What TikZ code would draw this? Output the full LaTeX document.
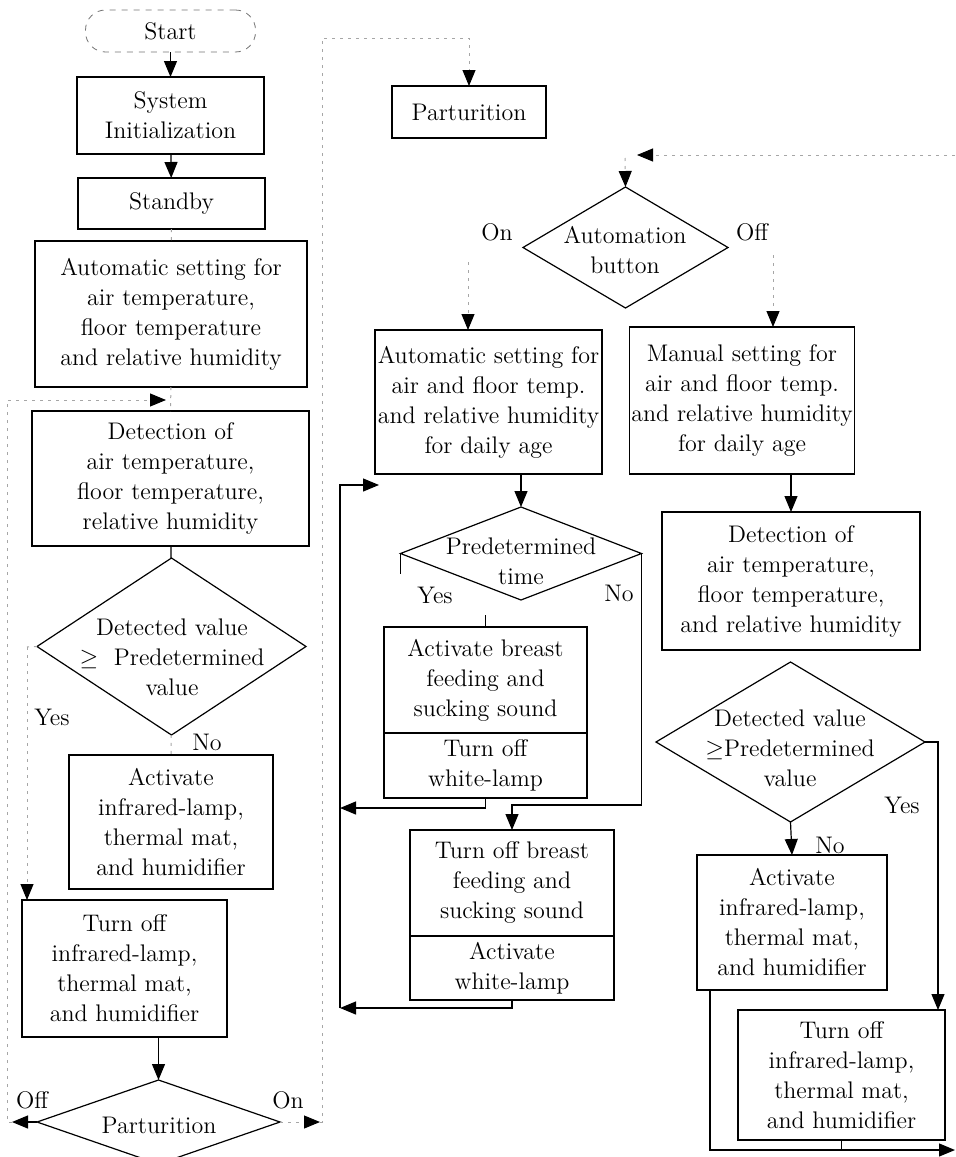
\documentclass[tikz,border=0pt]{standalone}
\usetikzlibrary{arrows.meta,shapes.geometric}
\tikzset{
  txt/.style={font=\fontsize{12}{15}\selectfont},
  box/.style={txt, draw, line width=0.6pt, align=center, inner sep=1pt, outer sep=0pt},
  boxwh/.style 2 args={minimum width=#1*0.5pt, minimum height=#2*0.5pt},
  dia/.style={draw, line width=0.6pt, diamond, inner sep=0pt, outer sep=0pt},
  term/.style={txt, draw=black!55, dashed, rounded corners=10pt, inner sep=1pt},
  lbl/.style={txt, inner sep=0pt},
  line/.style={line width=0.6pt},
  arr/.style={line, -{Triangle[length=8pt, width=6.5pt]}},
  faint/.style={draw=black!35, line width=0.5pt, dash pattern=on 1.5pt off 2.5pt},
  faintarr/.style={faint, -{Triangle[length=8pt, width=6.5pt, color=black]}},
}
\begin{document}
\begin{tikzpicture}[x=0.5pt, y=-0.5pt]
\useasboundingbox (0,0) rectangle (955,1157);
\clip (0,0) rectangle (955,1157);
% left column
\node[term, boxwh={170}{42}] (start) at (170.5,31) {Start};
\node[box, boxwh={187}{77}] (init) at (170.5,115.5) {System\\Initialization};
\node[box, boxwh={187}{51}] (stby) at (171.5,203.5) {Standby};
\node[box, boxwh={272}{146}] (aset) at (171,314) {Automatic setting for\\air temperature,\\floor temperature\\and relative humidity};
\node[box, boxwh={277}{135}] (det) at (170.5,478.5) {Detection of\\air temperature,\\floor temperature,\\relative humidity};
\node[dia, boxwh={269}{177}] (cmp) at (171.5,646.5) {};
\node[lbl, align=center] (cmpt) at (172,657) {Detected value\\$\geq$\ \ Predetermined\\value};
\node[lbl] (yesA) at (52,717) {Yes};
\node[lbl] (noA) at (207,742) {No};
\node[box, boxwh={204}{134}] (act) at (171,822) {Activate\\infrared-lamp,\\thermal mat,\\and humidifier};
\node[box, boxwh={205}{137}] (toff) at (124.5,968.5) {Turn off\\infrared-lamp,\\thermal mat,\\and humidifier};
\node[dia, boxwh={243}{84}] (part) at (158.5,1122) {};
\node[lbl] (partt) at (159,1125) {Parturition};
\node[lbl] (offA) at (32,1100) {Off};
\node[lbl] (onA) at (288,1100) {On};

\coordinate (offend) at (12,1122);
\coordinate (onend) at (320,1122);
\coordinate (offup) at (7,400);
\coordinate (detin) at (166,400);
\coordinate (onup) at (322,38);
\coordinate (yesL) at (27,647);

\draw[arr] (start) -- (init);
\draw[arr] (init) -- (stby);
\draw[faint] (stby) -- (aset);
\draw[faint] (aset) -- (det);
\draw[line] (det) -- (cmp);
\draw[faint] (cmp) -- (act);
\draw[faint] (cmp.west) -- (yesL);
\draw[faintarr] (yesL) -- (yesL |- toff.north);
\draw[arr] (part.north |- toff.south) -- (part.north);
\draw[arr] (part.west) -- (offend);
\draw[faintarr] (part.east) -- (onend);
\draw[faintarr] (offend) -| (offup) -- (detin);

% middle column
\node[box, boxwh={154}{52}] (part2) at (469,112) {Parturition};
\draw[faintarr] (onend) -| (onup) -- (onup -| part2.north) -- (part2.north);
\coordinate (toploop) at (955,155);
\coordinate (looptip) at (637,155);
\coordinate (autoin) at (625,158);
\draw[faintarr] (toploop) -- (looptip);
\node[dia, boxwh={205}{121}] (auto) at (625.5,247.5) {};
\node[lbl, align=center] (autot) at (625,250) {Automation\\button};
\draw[faintarr] (autoin) -- (auto.north);
\node[lbl] (onB) at (497,232) {On};
\node[lbl] (offB) at (752,232) {Off};
\node[box, boxwh={227}{144}] (mset) at (488.5,402) {Automatic setting for\\air and floor temp.\\and relative humidity\\for daily age};
\node[box, boxwh={216}{147}] (man) at (742,400.5) {Manual setting for\\air and floor temp.\\and relative humidity\\for daily age};
\coordinate (onx) at (468,262);
\coordinate (offx) at (773,255);
\draw[faintarr] (onx) -- (onx |- mset.north);
\draw[faintarr] (offx) -- (offx |- man.north);

\node[dia, boxwh={241}{93}] (pt) at (521,553.5) {};
\node[lbl, align=center] (ptt) at (521,561) {Predetermined\\time};
\draw[arr] (pt.north |- mset.south) -- (pt.north);
\node[lbl] (yesB) at (435,595) {Yes};
\node[lbl] (noB) at (619,593) {No};
\node[box, boxwh={203}{106}] (feed) at (485.5,680) {Activate breast\\feeding and\\sucking sound};
\node[box, boxwh={203}{65}] (wloff) at (485.5,765.5) {Turn off\\white-lamp};
\node[box, boxwh={204}{106}] (fdoff) at (512,883) {Turn off breast\\feeding and\\sucking sound};
\node[box, boxwh={204}{64}] (wlon) at (512,968) {Activate\\white-lamp};
\draw[line] (pt.west) -- ++(0,20);
\draw[line] (feed.north) -- ++(0,-12);
\coordinate (nobend) at (512,805);
\draw[arr] (pt.east) |- (nobend) -- (fdoff.north);
\coordinate (lpA) at (340,808);
\coordinate (lpB) at (340,1008);
\coordinate (ptin) at (379,485);
\draw[arr] (wloff.south) |- (lpA);
\draw[arr] (wlon.south) |- (lpB);
\draw[arr] (lpB) -- (lpB |- ptin) -- (ptin);

% right column
\node[box, boxwh={258}{138}] (det2) at (791,581) {Detection of\\air temperature,\\floor temperature,\\and relative humidity};
\draw[arr] (det2.north |- man.south) -- (det2.north);
\node[dia, boxwh={269}{160}] (cmp2) at (790.5,742) {};
\node[lbl, align=center] (cmp2t) at (790,748) {Detected value\\$\geq$Predetermined\\value};
\node[lbl] (yesC) at (902,805) {Yes};
\node[lbl] (noC) at (830,845) {No};
\node[box, boxwh={190}{135}] (act2) at (792,922.5) {Activate\\infrared-lamp,\\thermal mat,\\and humidifier};
\draw[arr] (cmp2.south) -- (act2.north);
\node[box, boxwh={207}{130}] (toff2) at (841.5,1075) {Turn off\\infrared-lamp,\\thermal mat,\\and humidifier};
\coordinate (yesR) at (938,742);
\draw[arr] (cmp2.east) -- (yesR) -- (yesR |- toff2.north);
\coordinate (dropx) at (710,1150);
\coordinate (botR) at (955,1150);
\draw[arr] (dropx |- act2.south) -- (dropx) -- (botR);
\draw[line] (toff2.south) -- (toff2.south |- botR);
\end{tikzpicture}
\end{document}
